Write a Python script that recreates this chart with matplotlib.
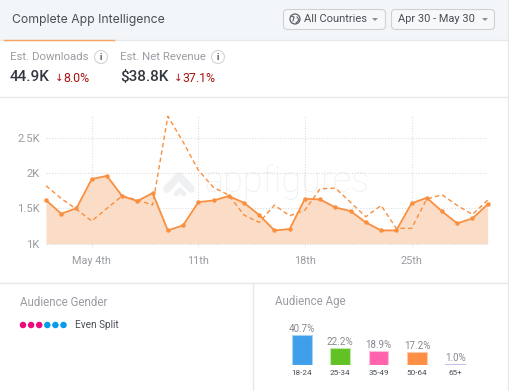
import numpy as np
import matplotlib
matplotlib.use('Agg')
import matplotlib.pyplot as plt
from matplotlib.patches import FancyBboxPatch, Circle, Rectangle, Polygon

plt.rcParams['font.family'] = ['Roboto', 'DejaVu Sans']

W, H = 510, 391

days = list(range(1, 31))
downloads = [1617, 1424, 1500, 1913, 1960, 1673, 1603, 1716, 1188, 1259,
             1588, 1612, 1673, 1579, 1405, 1188, 1207, 1635, 1626, 1513,
             1461, 1301, 1188, 1188, 1570, 1650, 1457, 1287, 1358, 1556]
previous = [1820, 1640, 1487, 1321, 1500, 1675, 1618, 1547, 2803, 2440,
            2040, 1796, 1687, 1405, 1301, 1546, 1395, 1475, 1777, 1786,
            1584, 1381, 1541, 1217, 1217, 1631, 1692, 1541, 1414, 1617]
y_ticks = [1000, 1500, 2000, 2500]
y_labels = ['1K', '1.5K', '2K', '2.5K']
x_ticks = [4, 11, 18, 25]
x_labels = ['May 4th', '11th', '18th', '25th']

age_groups = ['18-24', '25-34', '35-49', '50-64', '65+']
age_share = [40.7, 22.2, 18.9, 17.2, 1.0]
age_colors = ['#3f9fea', '#62c125', '#ff63ad', '#ff8f45', '#8f6fd8']
age_edges = ['#a5d2f5', '#c3e8ab', '#ffc0de', '#ffcba8', '#c9bcec']

gender_dots = ['#ec0a7c', '#ec0a7c', '#ec0a7c', '#0a9be8', '#0a9be8', '#0a9be8']

ORANGE = '#f98f3f'
GRID = '#dedede'
LINE = '#e6e8ea'
GRAY = '#9a9da3'
DARK = '#4a4f57'
RED = '#a81212'


def px_axes(fig, left, top, right, bottom):
	return fig.add_axes([left / W, 1 - bottom / H, (right - left) / W, (bottom - top) / H])


fig = plt.figure(figsize=(W / 100, H / 100), dpi=100, facecolor='white')

# page furniture, drawn in pixel coordinates
bg = fig.add_axes([0, 0, 1, 1])
bg.set_xlim(0, W)
bg.set_ylim(H, 0)
bg.axis('off')

bg.add_patch(Rectangle((0, 0), 508, 40, fc='#f3f6f8', ec='none'))
bg.plot([0, 508], [40, 40], color=LINE, lw=1)
bg.plot([4, 114], [40, 40], color='#f9a35e', lw=1)
bg.plot([0, 508], [96.5, 96.5], color=LINE, lw=1)
bg.plot([0, 508], [282.5, 282.5], color=LINE, lw=1)
bg.plot([253.5, 253.5], [283, H], color=LINE, lw=1)
bg.plot([508, 508], [0, H], color=LINE, lw=1)

bg.text(12, 19.5, 'Complete App Intelligence', fontsize=8.8, color=DARK, va='center', family=['Inter'])

for x0, x1 in [(283.5, 385.5), (391.5, 494.5)]:
	bg.add_patch(FancyBboxPatch((x0 + 4, 13.5), x1 - x0 - 8, 12, boxstyle='round,pad=4',
		fc='#f6f8f9', ec='#ced2d6', lw=0.8))
bg.add_patch(Circle((295, 19), 5, fc='none', ec='#5c6168', lw=0.9))
bg.plot([291, 294, 293], [16, 17, 21], color='#5c6168', lw=0.8)
bg.plot([296, 299, 297], [23, 20, 17], color='#5c6168', lw=0.8)
bg.text(304, 19, 'All Countries', fontsize=8, color=DARK, va='center')
bg.text(398.5, 19, 'Apr 30 - May 30', fontsize=7.9, color=DARK, va='center')
for cx in [375, 485]:
	bg.add_patch(Polygon([(cx - 3, 18), (cx + 3, 18), (cx, 21)], fc='#8a8f95', ec='none'))

bg.text(10, 57.5, 'Est. Downloads', fontsize=8.2, color=GRAY, va='center')
bg.text(120, 57.5, 'Est. Net Revenue', fontsize=8.2, color=GRAY, va='center')
for cx in [101, 218]:
	bg.add_patch(Circle((cx, 57), 6.5, fc='white', ec='#d2d5d8', lw=0.8))
	bg.text(cx, 57, 'i', fontsize=6.5, color=DARK, ha='center', va='center', fontweight='bold')

bg.text(10, 77, '44.9K', fontsize=11, color='#33383f', va='center', fontweight='medium')
bg.text(55, 78, '↓', fontsize=7.5, color=RED, va='center', family=['DejaVu Sans'])
bg.text(63.5, 79, '8.0%', fontsize=8.9, color=RED, va='center')
bg.text(120, 77, '$38.8K', fontsize=11, color='#33383f', va='center', fontweight='medium')
bg.text(173.5, 78, '↓', fontsize=7.5, color=RED, va='center', family=['DejaVu Sans'])
bg.text(182, 79, '37.1%', fontsize=8.9, color=RED, va='center')

# watermark behind the series
bg.plot([167, 179, 191], [189, 176, 189], color='#eff0f1', lw=5.5, solid_capstyle='round',
	solid_joinstyle='round')
bg.plot([176, 180, 184], [194, 190, 194], color='#eff0f1', lw=3.5, solid_capstyle='round')
bg.text(204, 182, 'appfigures', fontsize=26, color='#f0f1f2', va='center', fontweight='light')

# main chart
ax = px_axes(fig, 46, 116, 487.7, 248)
ax.patch.set_alpha(0)
ax.set_xlim(1, 30)
ax.set_ylim(1000 - 4.3 / 0.0707, 1000 + 127.7 / 0.0707)
for s in ax.spines.values():
	s.set_visible(False)
ax.set_yticks(y_ticks)
ax.set_yticklabels(y_labels)
ax.set_xticks(x_ticks)
ax.set_xticklabels(x_labels)
ax.tick_params(axis='both', length=0, labelcolor='#999ca1')
ax.tick_params(axis='y', pad=4.5, labelsize=8.1)
ax.tick_params(axis='x', pad=6, labelsize=7.8)
ax.grid(True, color=GRID, lw=0.8, linestyle=(0, (1, 1.5)))
ax.set_axisbelow(True)

ax.fill_between(days, 1000, downloads, color='#fbdcc6', lw=0, zorder=2)
ax.plot(days, previous, color=ORANGE, lw=1.0, linestyle=(0, (3.2, 2.2)), zorder=3, clip_on=False)
ax.plot(days, downloads, color=ORANGE, lw=1.3, marker='o', ms=3.2, mew=0, zorder=4, clip_on=False)

# audience gender
bg.text(20, 302, 'Audience Gender', fontsize=8.3, color=GRAY, va='center')
bg.text(275, 302, 'Audience Age', fontsize=8.3, color=GRAY, va='center')
bg.scatter(np.arange(len(gender_dots)) * 8.1 + 23, [325] * len(gender_dots), s=22, c=gender_dots, lw=0)
bg.text(75.5, 324.5, 'Even Split', fontsize=7.2, color=DARK, va='center')

# audience age
ax2 = px_axes(fig, 282.5, 328.2, 474.5, 364.7)
ax2.patch.set_alpha(0)
ax2.set_xlim(-0.5, 4.5)
ax2.set_ylim(0, 50)
for s in ax2.spines.values():
	s.set_visible(False)
bars = ax2.bar(range(len(age_share)), age_share, width=0.52, color=age_colors,
	edgecolor=age_edges, linewidth=0.8)
ax2.bar_label(bars, labels=['%.1f%%' % v for v in age_share], padding=1, fontsize=7, color='#85888e')
ax2.set_yticks([])
ax2.set_xticks(range(len(age_groups)))
ax2.set_xticklabels(age_groups)
ax2.tick_params(axis='x', length=0, pad=4, labelsize=5.9, labelcolor=DARK)

fig.savefig('out.png', dpi=100)
